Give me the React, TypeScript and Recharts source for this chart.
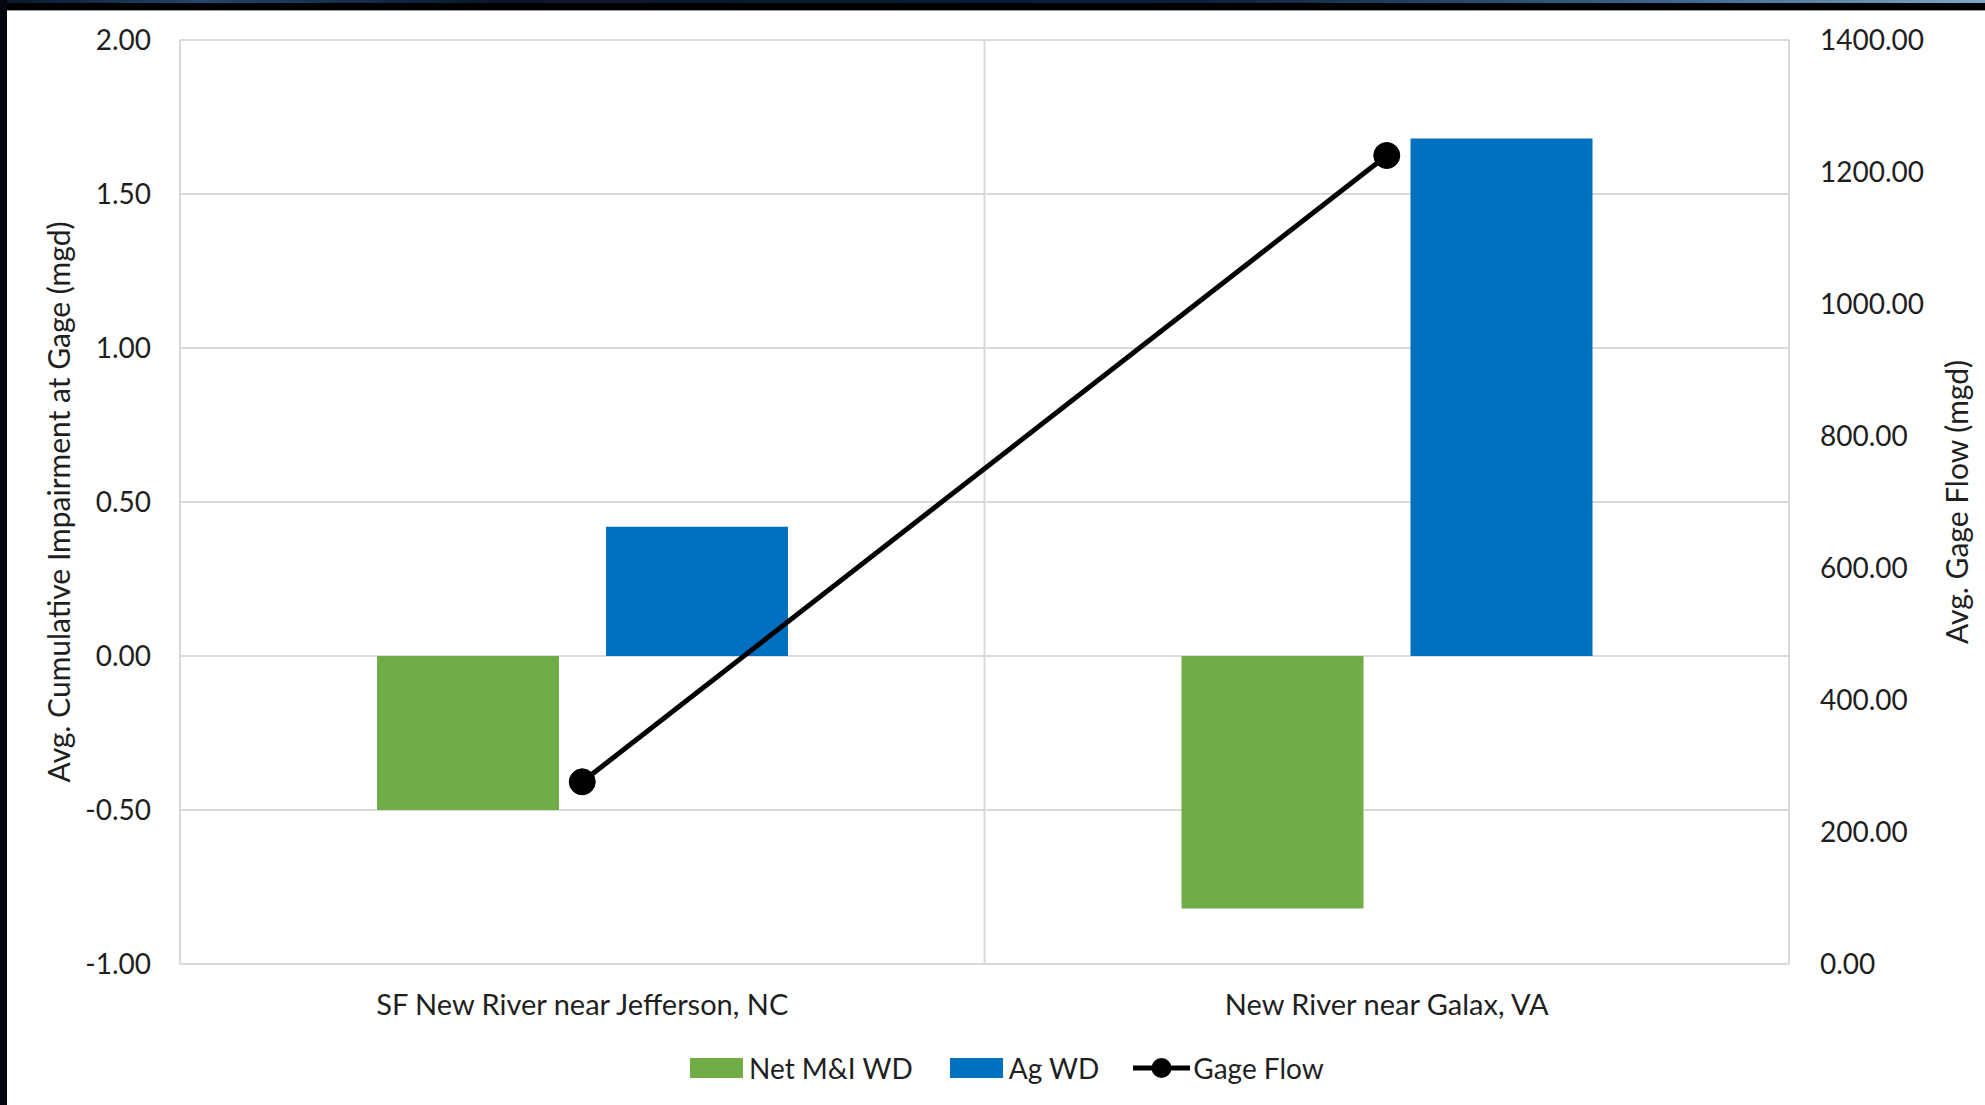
import { Bar, CartesianGrid, ComposedChart, Label, Legend, Line, XAxis, YAxis } from "recharts";

const categories = ["SF New River near Jefferson, NC", "New River near Galax, VA"];
const netMIWD = [-0.5, -0.82];
const agWD = [0.42, 1.68];
const gageFlow = [276, 1225];
const leftTicks = [-1, -0.5, 0, 0.5, 1, 1.5, 2];
const rightTicks = [0, 200, 400, 600, 800, 1000, 1200, 1400];

const FONT = "Lato, 'Open Sans', sans-serif";
const TEXT = "#1f1f1f";
const GRID = "#d9d9d9";

const data = categories.map((name, i) => ({
  name,
  netMI: netMIWD[i],
  ag: agWD[i],
  flow: gageFlow[i],
}));

const AxisTitle = (dx: number, text: string) => (props: any) => {
  const vb = props.viewBox;
  const cx = vb.x + dx;
  const cy = vb.y + vb.height / 2;
  return (
    <text
      x={cx}
      y={cy}
      transform={`rotate(-90 ${cx} ${cy})`}
      textAnchor="middle"
      dominantBaseline="central"
      fill={TEXT}
      fontSize={30}
      fontFamily={FONT}
    >
      {text}
    </text>
  );
};

const LegendContent = () => (
  <div
    style={{
      height: 70,
      display: "flex",
      alignItems: "center",
      paddingLeft: 690,
      paddingBottom: 4,
      boxSizing: "border-box",
      fontFamily: FONT,
      fontSize: 28,
      color: TEXT,
    }}
  >
    <span style={{ width: 53, height: 20, background: "#70AD47", display: "inline-block" }} />
    <span style={{ marginLeft: 6, marginRight: 37 }}>Net M&amp;I WD</span>
    <span style={{ width: 53, height: 20, background: "#0070C0", display: "inline-block" }} />
    <span style={{ marginLeft: 6, marginRight: 34 }}>Ag WD</span>
    <svg width={57} height={22}>
      <line x1={0} y1={11} x2={57} y2={11} stroke="#000" strokeWidth={5} strokeLinecap="round" />
      <circle cx={28.5} cy={11} r={10} fill="#000" />
    </svg>
    <span style={{ marginLeft: 3 }}>Gage Flow</span>
  </div>
);

export default function App() {
  return (
    <div style={{ position: "absolute", left: 0, top: 0, width: 1985, height: 1105, background: "#fff", overflow: "hidden" }}>
      <ComposedChart
        width={1985}
        height={1105}
        data={data}
        margin={{ top: 40, right: 0, bottom: 0, left: 0 }}
        barGap={47}
      >
        <CartesianGrid
          yAxisId="left"
          stroke={GRID}
          strokeWidth={2}
          verticalCoordinatesGenerator={({ offset }: any) => [
            offset.left,
            offset.left + offset.width / 2,
            offset.left + offset.width,
          ]}
        />
        <XAxis
          dataKey="name"
          axisLine={false}
          tickLine={false}
          tickSize={0}
          tickMargin={30}
          height={71}
          tick={{ fill: TEXT, fontSize: 29, fontFamily: FONT }}
        />
        <YAxis
          yAxisId="left"
          domain={[-1, 2]}
          ticks={leftTicks}
          interval={0}
          tickFormatter={(v: number) => v.toFixed(2)}
          width={180}
          axisLine={false}
          tickLine={false}
          tickSize={0}
          tickMargin={29}
          tick={{ fill: TEXT, fontSize: 28, fontFamily: FONT }}
        >
          <Label content={AxisTitle(58, "Avg. Cumulative Impairment at Gage (mgd)")} />
        </YAxis>
        <YAxis
          yAxisId="right"
          orientation="right"
          domain={[0, 1400]}
          ticks={rightTicks}
          interval={0}
          tickFormatter={(v: number) => v.toFixed(2)}
          width={196}
          axisLine={false}
          tickLine={false}
          tickSize={0}
          tickMargin={31}
          tick={{ fill: TEXT, fontSize: 28, fontFamily: FONT }}
        >
          <Label content={AxisTitle(167, "Avg. Gage Flow (mgd)")} />
        </YAxis>
        <Bar yAxisId="left" dataKey="netMI" name="Net M&I WD" fill="#70AD47" barSize={182} isAnimationActive={false} />
        <Bar yAxisId="left" dataKey="ag" name="Ag WD" fill="#0070C0" barSize={182} isAnimationActive={false} />
        <Line
          yAxisId="right"
          type="linear"
          dataKey="flow"
          name="Gage Flow"
          stroke="#000"
          strokeWidth={5}
          dot={{ r: 13, fill: "#000", stroke: "#000", strokeWidth: 1 }}
          isAnimationActive={false}
        />
        <Legend verticalAlign="bottom" height={70} content={LegendContent} />
      </ComposedChart>
      <div
        style={{
          position: "absolute",
          left: 0,
          top: 0,
          width: 1985,
          height: 10,
          background: "#000",
          borderBottom: "1px solid #9a9a9a",
        }}
      >
        <div
          style={{
            height: 3,
            background: "linear-gradient(90deg, #0a1628 0%, #24466e 10%, #0a1628 25%, #0d1f3a 60%, #3d6a92 85%, #7fa8c8 100%)",
          }}
        />
      </div>
      <div style={{ position: "absolute", left: 0, top: 0, width: 7, height: 1105, background: "#03060c" }} />
    </div>
  );
}
